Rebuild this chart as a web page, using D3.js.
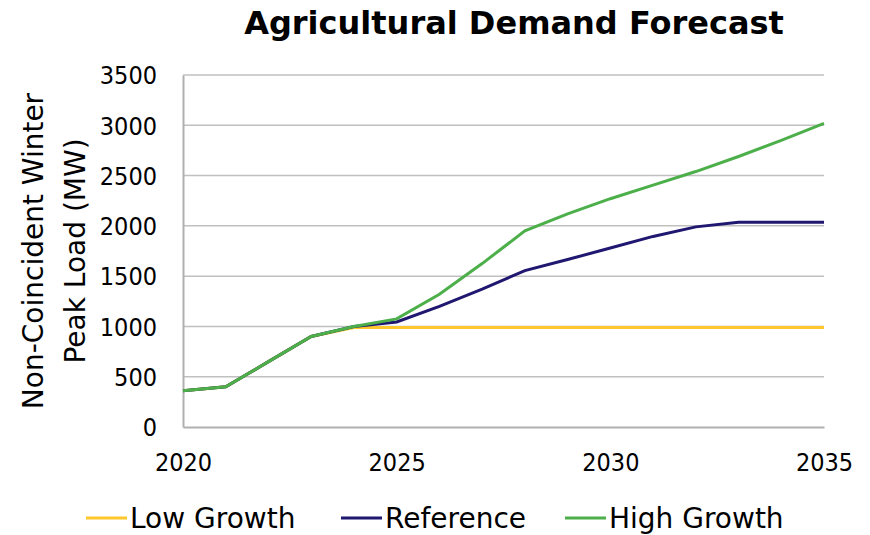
<!DOCTYPE html>
<html>
<head>
<meta charset="utf-8">
<script src="https://cdn.jsdelivr.net/npm/d3@7"></script>
<style>
  body { margin: 0; background: #fff; }
  text { font-family: "DejaVu Sans", sans-serif; fill: #000; }
  .tick text { font-family: "DejaVu Sans Condensed", "DejaVu Sans", sans-serif; }
</style>
</head>
<body>
<svg id="chart" width="870" height="535"></svg>
<script>
// Chart data.
var years = [2020, 2021, 2022, 2023, 2024, 2025, 2026, 2027, 2028, 2029, 2030, 2031, 2032, 2033, 2034, 2035];
var lowGrowth = [360, 400, 650, 900, 990, 990, 990, 990, 990, 990, 990, 990, 990, 990, 990, 990];
var reference = [360, 400, 650, 900, 1000, 1045, 1200, 1370, 1555, 1665, 1780, 1895, 1990, 2035, 2035, 2035];
var highGrowth = [360, 400, 650, 900, 1000, 1075, 1320, 1625, 1950, 2120, 2270, 2405, 2540, 2690, 2850, 3020];
var seriesNames = ["Low Growth", "Reference", "High Growth"];
var seriesColors = ["#ffc72c", "#1f1770", "#4caf4a"];
var xTicks = [2020, 2025, 2030, 2035];
var yTicks = [0, 500, 1000, 1500, 2000, 2500, 3000, 3500];

var svg = d3.select('#chart');
var plotLeft = 183, plotRight = 824, plotTop = 75, plotBottom = 427;

var x = d3.scaleLinear().domain([2020, 2035]).range([plotLeft, plotRight]);
var y = d3.scaleLinear().domain([0, 3500]).range([plotBottom, plotTop]);

// Title
svg.append('text')
   .attr('x', 514).attr('y', 34)
   .attr('text-anchor', 'middle')
   .style('font-size', '32px')
   .style('font-weight', 'bold')
   .text('Agricultural Demand Forecast');

// Horizontal gridlines
svg.append('g')
   .selectAll('line')
   .data(yTicks.slice(1))
   .enter().append('line')
   .attr('x1', plotLeft).attr('x2', plotRight)
   .attr('y1', function(d) { return y(d); })
   .attr('y2', function(d) { return y(d); })
   .style('stroke', '#c0c0c0')
   .style('stroke-width', 1.5);

// Y axis
var yAxis = svg.append('g')
   .attr('transform', 'translate(' + plotLeft + ',0)')
   .call(d3.axisLeft(y).tickValues(yTicks).tickFormat(d3.format('d')).tickSize(0).tickPadding(26));
yAxis.select('.domain').style('stroke', '#b0b0b0').style('stroke-width', 2);
yAxis.selectAll('text').style('font-size', '25px').attr('dy', '0.35em');

// X axis
var xAxis = svg.append('g')
   .attr('transform', 'translate(0,' + plotBottom + ')')
   .call(d3.axisBottom(x).tickValues(xTicks).tickFormat(d3.format('d')).tickSize(0).tickPadding(26));
xAxis.select('.domain').style('stroke', '#b0b0b0').style('stroke-width', 2);
xAxis.selectAll('text').style('font-size', '25px');

// Y axis title, two lines
var yTitle = svg.append('text')
   .attr('transform', 'translate(43,251) rotate(-90)')
   .attr('text-anchor', 'middle')
   .style('font-size', '28px');
yTitle.append('tspan').attr('x', 0).attr('y', 0).text('Non-Coincident Winter');
yTitle.append('tspan').attr('x', 0).attr('y', 42).text('Peak Load (MW)');

// Lines
var allSeries = [lowGrowth, reference, highGrowth];
var line = d3.line()
   .x(function(d, i) { return x(years[i]); })
   .y(function(d) { return y(d); });

svg.append('g')
   .selectAll('path')
   .data(allSeries)
   .enter().append('path')
   .attr('d', function(d) { return line(d); })
   .style('fill', 'none')
   .style('stroke', function(d, i) { return seriesColors[i]; })
   .style('stroke-width', 3);

// Legend
var legendX = [86, 341, 565];
var legend = svg.append('g')
   .selectAll('g')
   .data(seriesNames)
   .enter().append('g')
   .attr('transform', function(d, i) { return 'translate(' + legendX[i] + ',518)'; });
legend.append('line')
   .attr('x1', 0).attr('x2', 41)
   .style('stroke', function(d, i) { return seriesColors[i]; })
   .style('stroke-width', 3);
legend.append('text')
   .attr('x', 44).attr('dy', '0.36em')
   .style('font-size', '28px')
   .text(function(d) { return d; });
</script>
</body>
</html>
